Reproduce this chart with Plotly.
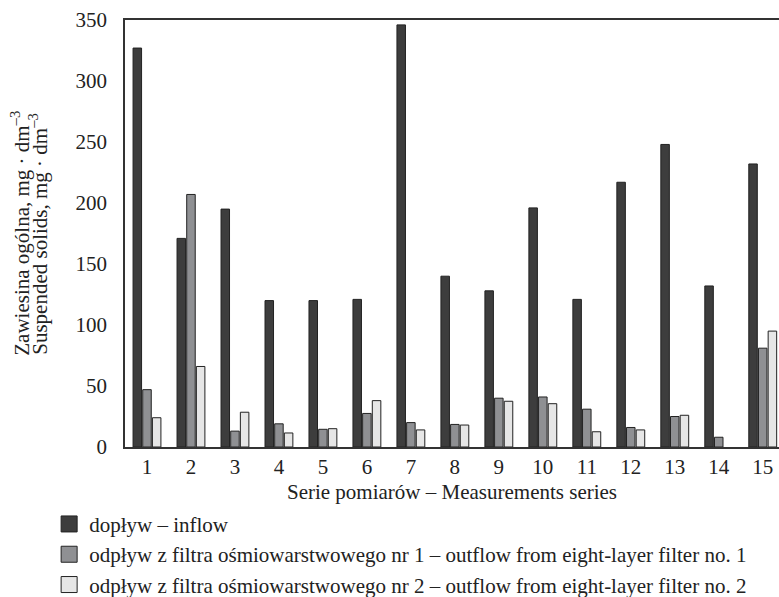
import plotly.graph_objects as go

series = [str(i) for i in range(1, 16)]
inflow = [327, 171, 195, 120, 120, 121, 346, 140, 128, 196, 121, 217, 248, 132, 232]
outflow1 = [47, 207, 13, 19, 14.5, 27.5, 20, 18.5, 40, 41, 31, 16, 25, 8, 81]
outflow2 = [24, 66, 28.5, 11.5, 15, 38, 14, 18, 37.5, 35.5, 12.5, 14, 26, None, 95]

names = ["dopływ – inflow",
         "odpływ z filtra ośmiowarstwowego nr 1 – outflow from eight-layer filter no. 1",
         "odpływ z filtra ośmiowarstwowego nr 2 – outflow from eight-layer filter no. 2"]
colors = ["#3d3d3d", "#8f9093", "#e6e6e6"]

FONT = "Liberation Serif"
FS = 21
fig = go.Figure()
for i, (vals, nm, c) in enumerate(zip([inflow, outflow1, outflow2], names, colors)):
    fig.add_trace(go.Bar(x=series, y=vals, name=nm, showlegend=False,
                         marker=dict(color=c, line=dict(color="#222222", width=1))))
for i, (nm, c) in enumerate(zip(names, colors)):
    fig.add_trace(go.Scatter(x=[None], y=[None], mode="markers", name=nm,
                             marker=dict(symbol="square", size=16, color=c,
                                         line=dict(color="#222222", width=1))))

fig.update_layout(
    width=779, height=597,
    margin=dict(l=125, r=0, t=20, b=150, autoexpand=False),
    paper_bgcolor="white", plot_bgcolor="white",
    barmode="group", bargap=0.34, bargroupgap=0.12,
    font=dict(family=FONT, size=FS, color="#222222"),
    showlegend=True,
    legend=dict(orientation="v", x=-0.116, xanchor="left", y=-0.133, yanchor="top",
                traceorder="normal", itemsizing="trace",
                font=dict(family=FONT, size=FS, color="#222222"),
                bgcolor="rgba(0,0,0,0)"),
)
fig.update_xaxes(range=[-0.5, 14.37], showline=True, mirror=True, linecolor="#333333",
                 linewidth=1.5, ticks="", showgrid=False, automargin=False,
                 title=dict(text="Serie pomiarów – Measurements series", standoff=6,
                            font=dict(family=FONT, size=FS)),
                 tickfont=dict(family=FONT, size=FS))
fig.update_yaxes(range=[0, 350], dtick=50, showline=True, linecolor="#333333",
                 linewidth=1.5, ticks="", showgrid=False, zeroline=False, automargin=False,
                 ticklabelstandoff=12, tickfont=dict(family=FONT, size=FS))
ytitles = ["Zawiesina ogólna, mg · dm<sup>–3</sup>", "Suspended solids, mg · dm<sup>–3</sup>"]
for t, xp in zip(ytitles, [21, 39]):
    fig.add_annotation(text=t, xref="paper", yref="paper", x=(xp - 125) / 654,
                       y=(447 - 234) / 426.5,
                       xanchor="center", yanchor="middle", textangle=-90, showarrow=False,
                       font=dict(family=FONT, size=FS, color="#222222"))
fig.write_html("out.html")
